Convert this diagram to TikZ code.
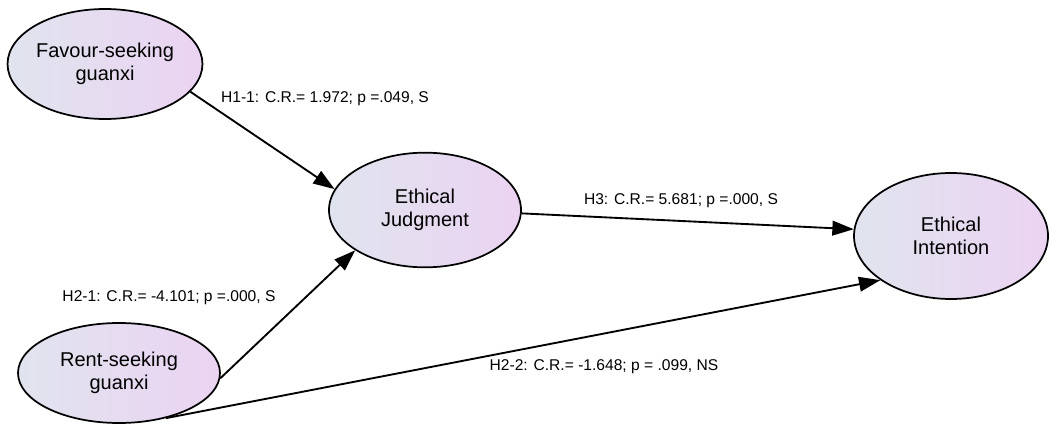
\documentclass[tikz,border=0pt]{standalone}
\usepackage{fontspec}
\setmainfont{Liberation Sans}
\usetikzlibrary{shapes.geometric,arrows.meta}

\definecolor{lvleft}{RGB}{224,228,238}
\definecolor{lvright}{RGB}{235,211,242}

\tikzset{
  construct/.style={ellipse, draw, line width=1.3pt, inner sep=0pt, align=center,
    left color=lvleft, right color=lvright, font=\fontsize{15}{17}\selectfont},
  effect/.style={line width=1.4pt, -{Triangle[length=16pt,width=11pt]}},
  crlabel/.style={font=\fontsize{11.7}{13}\selectfont, inner sep=0pt}
}

\begin{document}
\begin{tikzpicture}[x=0.75pt,y=-0.75pt]
\useasboundingbox (0,0) rectangle (1049,424);
% constructs
\node[construct, minimum width=144pt, minimum height=82.5pt] (fav) at (105,64) {Favour-seeking\\guanxi};
\node[construct, minimum width=144pt, minimum height=86pt] (judg) at (425,210) {Ethical\\Judgment};
\node[construct, minimum width=145.5pt, minimum height=94.5pt] (intent) at (951,236) {Ethical\\Intention};
\node[construct, minimum width=151.5pt, minimum height=75pt] (rent) at (119,373) {Rent-seeking\\guanxi};
% paths
\draw[effect] (fav.-18) -- (judg.167);
\draw[effect] (rent.-3) -- (judg.210);
\draw[effect] (judg.-2) -- (intent.176);
\draw[effect] (rent.-44) -- (intent.212);
% estimates
\node[crlabel] (h11) at (325,99) {H1-1: C.R.= 1.972; p =.049, S};
\node[crlabel] (h21) at (169,298) {H2-1: C.R.= -4.101; p =.000, S};
\node[crlabel] (h3) at (681,201) {H3: C.R.= 5.681; p =.000, S};
\node[crlabel] (h22) at (604,367) {H2-2: C.R.= -1.648; p = .099, NS};
\end{tikzpicture}
\end{document}
